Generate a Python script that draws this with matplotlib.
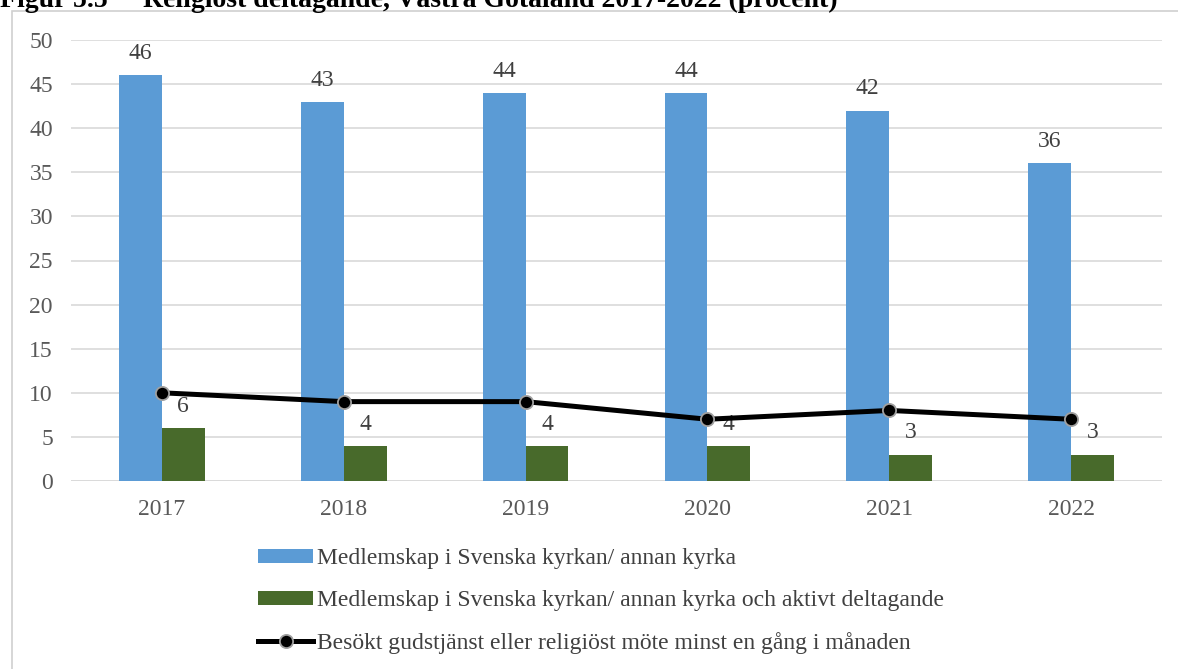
import numpy as np
import matplotlib.pyplot as plt
from matplotlib.patches import Rectangle

years = ['2017', '2018', '2019', '2020', '2021', '2022']
medlem = [46, 43, 44, 44, 42, 36]
aktiv = [6, 4, 4, 4, 3, 3]
besokt = [10, 9, 9, 7, 8, 7]

labels = ['Medlemskap i Svenska kyrkan/ annan kyrka',
          'Medlemskap i Svenska kyrkan/ annan kyrka och aktivt deltagande',
          'Besökt gudstjänst eller religiöst möte minst en gång i månaden']

plt.rcParams['font.family'] = ['Liberation Serif', 'DejaVu Serif']
text_col = '#595959'
fs = 17

fig = plt.figure(figsize=(11.78, 6.69), dpi=100)
fig.patches.append(Rectangle((12 / 1178, -0.05), 1.2, 1 - 11 / 669 + 0.05,
                             transform=fig.transFigure, fill=False,
                             edgecolor='#d0d0d0', linewidth=1.2))
fig.text(0.0, 1 - 7 / 669, 'Figur 5.5', fontsize=20, fontweight='bold',
         va='baseline', ha='left')
fig.text(143 / 1178, 1 - 7 / 669,
         'Religiöst deltagande, Västra Götaland 2017-2022 (procent)',
         fontsize=20, fontweight='bold', va='baseline', ha='left')

ax = fig.add_axes([71 / 1178, 1 - 481 / 669, (1162 - 71) / 1178, (481 - 40) / 669])
x = np.arange(len(years))
w = 0.236
b1 = ax.bar(x - w / 2, medlem, w, color='#5b9bd5', label=labels[0], zorder=2)
b2 = ax.bar(x + w / 2, aktiv, w, color='#486a2b', label=labels[1], zorder=2)
ln, = ax.plot(x, besokt, color='black', linewidth=3.6, marker='o',
              markersize=9.5, markerfacecolor='black', markeredgecolor='#a0a0a0',
              markeredgewidth=1.3, label=labels[2], zorder=4)

for bars, vals in ((b1, medlem), (b2, aktiv)):
    for r, v in zip(bars, vals):
        ax.annotate(str(v), (r.get_x() + r.get_width() / 2, v),
                    xytext=(0, 8), textcoords='offset points',
                    ha='center', va='bottom', fontsize=fs, color='#404040',
                    zorder=3)

ax.set_xlim(-0.5, len(years) - 0.5)
ax.set_ylim(0, 50)
ax.set_yticks(range(0, 51, 5))
ax.set_xticks(x)
ax.set_xticklabels(years)
ax.tick_params(axis='both', length=0, labelsize=fs, labelcolor=text_col)
ax.tick_params(axis='y', pad=13)
ax.tick_params(axis='x', pad=13)
ax.grid(axis='y', color='#d9d9d9', linewidth=1.2, zorder=0)
for s in ax.spines.values():
    s.set_visible(False)
ax.axhline(0, color='#d9d9d9', linewidth=1.2, zorder=1)

leg = fig.legend(handles=[b1, b2, ln], labels=labels, loc='upper left',
                 bbox_to_anchor=(249 / 1178, 1 - 539 / 669), frameon=False,
                 fontsize=fs, labelcolor='#404040', handlelength=2.3,
                 handletextpad=0.2, labelspacing=0.88, handleheight=0.5,
                 borderaxespad=0)

fig.savefig('out.png', dpi=100)
